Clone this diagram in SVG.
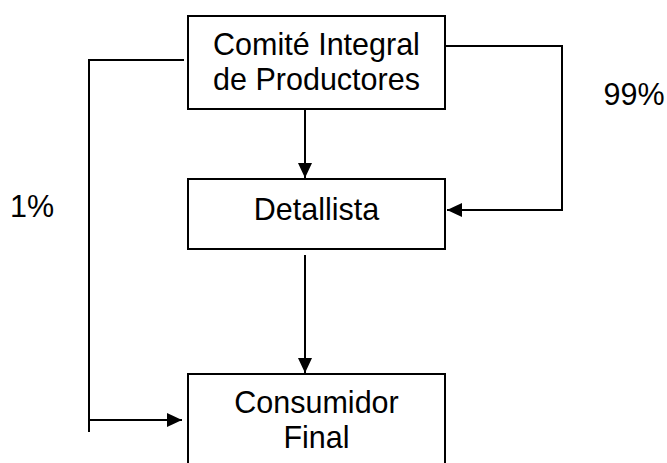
<svg xmlns="http://www.w3.org/2000/svg" width="667" height="463" viewBox="0 0 667 463">
<style>
.box{fill:#fff;stroke:#000;stroke-width:2}
.t{font-family:"Liberation Sans",Arial,sans-serif;font-size:30.5px;fill:#000;text-anchor:middle}
.c{fill:none;stroke:#000;stroke-width:2}
</style>
<defs>
<marker id="ah" markerUnits="userSpaceOnUse" markerWidth="16" markerHeight="16" viewBox="0 0 16 16" refX="15" refY="8" orient="auto">
<path d="M0,1 L15,8 L0,15 Z" fill="#000"/>
</marker>
</defs>
<g id="connectors">
<line class="c" x1="305" y1="110" x2="305" y2="178" marker-end="url(#ah)"/>
<line class="c" x1="305" y1="255" x2="305" y2="373" marker-end="url(#ah)"/>
<polyline class="c" points="446,46 562,46 562,210 447,210" marker-end="url(#ah)"/>
<polyline class="c" points="184,60 89,60 89,432"/>
<line class="c" x1="89" y1="420" x2="182" y2="420" marker-end="url(#ah)"/>
</g>
<g id="comite">
<rect class="box" x="188" y="16" width="257" height="93"/>
<text class="t" x="316.5" y="55">Comité Integral</text>
<text class="t" x="316.5" y="90">de Productores</text>
</g>
<g id="detallista">
<rect class="box" x="188" y="179" width="257" height="70"/>
<text class="t" x="316.5" y="220">Detallista</text>
</g>
<g id="consumidor">
<rect class="box" x="188" y="374" width="257" height="100"/>
<text class="t" x="316.5" y="413">Consumidor</text>
<text class="t" x="316.5" y="448">Final</text>
</g>
<g id="labels">
<text class="t" x="634" y="105">99%</text>
<text class="t" x="32" y="217">1%</text>
</g>
</svg>
